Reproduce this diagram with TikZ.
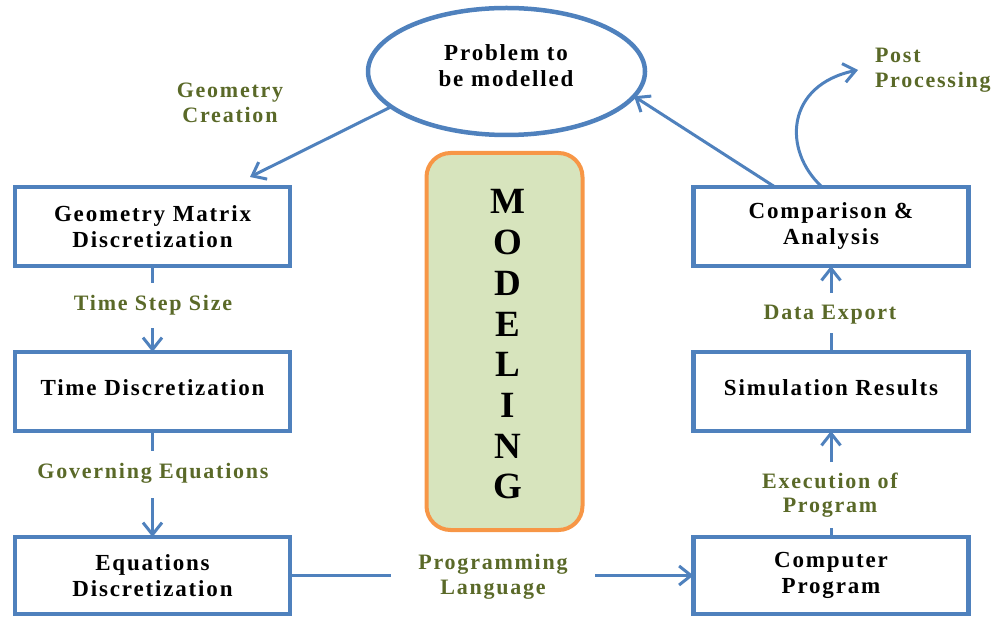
\documentclass[tikz,border=0pt]{standalone}
\usepackage{fontspec}
\setmainfont{Liberation Serif}
\usetikzlibrary{arrows.meta,shapes.geometric,calc}
\definecolor{bblue}{HTML}{4F81BD}
\definecolor{olive}{HTML}{5A6928}
\definecolor{lgreen}{HTML}{D7E4BD}
\definecolor{orng}{HTML}{F79646}
\newfontfamily\spacedfont[LetterSpace=8]{Liberation Serif}
\newcommand{\upby}[2]{\raisebox{#1}[\height][\depth]{#2}}
\begin{document}
\begin{tikzpicture}[x=1pt,y=-1pt,
  every node/.style={inner sep=0pt,outer sep=0pt},
  boxtext/.style={font=\spacedfont\bfseries\fontsize{23}{26}\selectfont,align=center},
  stepbox/.style={draw=bblue,line width=4.5pt,minimum width=275pt,minimum height=79pt,boxtext},
  lbl/.style={font=\spacedfont\bfseries\fontsize{22}{24.5}\selectfont,text=olive,align=center},
  conn/.style={draw=bblue,line width=3pt},
  arr/.style={conn,-{Straight Barb[length=12pt,width=19pt,line width=3pt]}}]
\useasboundingbox (0,0) rectangle (1003,617);
% nodes
\node[draw=bblue,line width=4.5pt,ellipse,minimum width=277pt,minimum height=127pt] (prob) at (506.5,71.5) {};
\node[boxtext] (probt) at (506,66) {Problem to\\be modelled};
\node[stepbox] (geo) at (152.5,226.5) {Geometry Matrix\\Discretization};
\node[stepbox] (time) at (152.5,391.5) {\upby{4pt}{Time Discretization}};
\node[stepbox,minimum height=77pt] (eqn) at (152.5,575.5) {Equations\\Discretization};
\node[stepbox] (comp) at (831,226.5) {Comparison \&\\Analysis};
\node[stepbox] (sim) at (831,391.5) {\upby{4pt}{Simulation Results}};
\node[stepbox,minimum height=77pt] (prog) at (831,575.5) {Computer\\Program};
\node[draw=orng,fill=lgreen,line width=4pt,rounded corners=24pt,minimum width=156pt,minimum height=377pt] (model) at (504.5,341.5) {};
\foreach \l [count=\i] in {M,O,D,E,L,I,N,G}
  \node[font=\bfseries\fontsize{37}{37}\selectfont,anchor=base] (m\i) at (508,{202+(\i-1)*40.7+12}) {\l};
% labels
\node[lbl] (lgc) at (230,103) {Geometry\\Creation};
\node[lbl] (lts) at (153,305) {Time Step Size};
\node[lbl] (lge) at (153,473) {Governing Equations};
\node[lbl] (lpl) at (493,577) {Programming\\Language};
\node[lbl] (lep) at (830,495) {Execution of\\Program};
\node[lbl] (lde) at (830,315) {Data Export};
\node[lbl,align=left,anchor=west] (lpp) at (875,70) {Post\\Processing};
% coordinates
\coordinate (gtip) at (250,177);
\coordinate (a1) at (152.5,283);
\coordinate (a2) at (152.5,328);
\coordinate (b1) at (152.5,451);
\coordinate (b2) at (152.5,498);
\coordinate (c1) at (391,575.5);
\coordinate (c2) at (595,575.5);
\coordinate (d1) at (831,528);
\coordinate (d2) at (831,462);
\coordinate (e1) at (831,333);
\coordinate (e2) at (831,293);
\coordinate (ptip) at (858,70);
% connectors
\draw[arr] (prob.197) -- (gtip);
\draw[conn] (geo.south) -- (a1);
\draw[arr] (a2) -- (time.north);
\draw[conn] (time.south) -- (b1);
\draw[arr] (b2) -- (eqn.north);
\draw[conn] (eqn.east) -- (c1);
\draw[arr] (c2) -- (prog.west);
\draw[conn] (prog.north) -- (d1);
\draw[arr] (d2) -- (sim.south);
\draw[conn] (sim.north) -- (e1);
\draw[arr] (e2) -- (comp.south);
\draw[arr] ($(comp.north)+(-56,0)$) -- (prob.349);
\draw[arr] ($(comp.north)+(-9,0)$) .. controls (782,150) and (786,85) .. (ptip);
\end{tikzpicture}
\end{document}
